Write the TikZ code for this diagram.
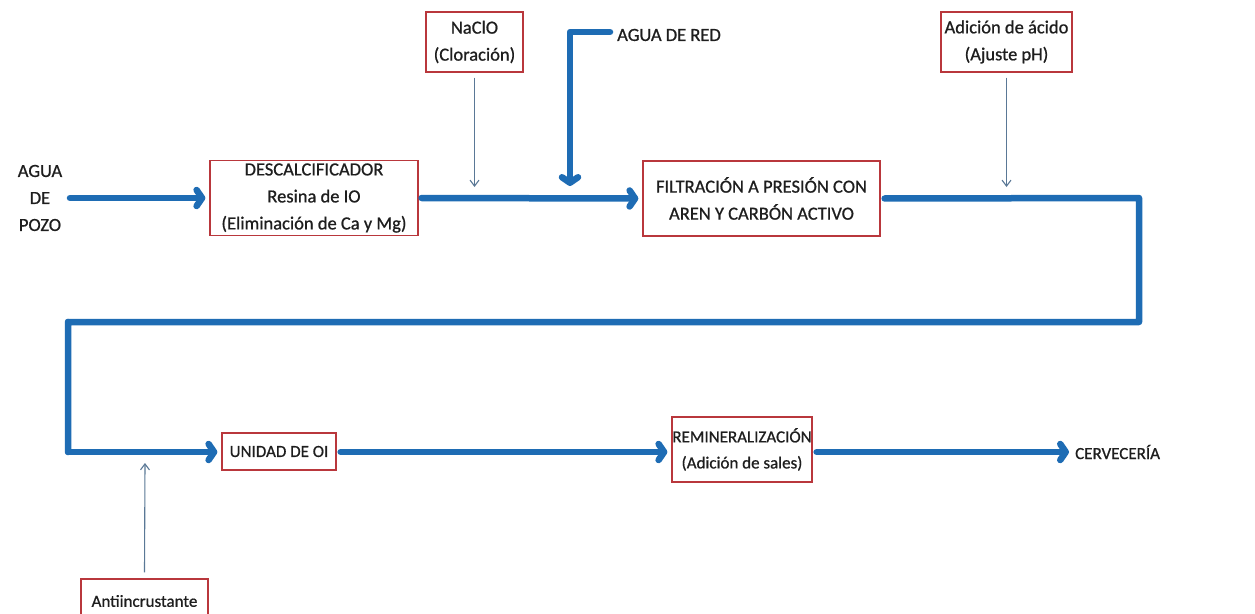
\documentclass[tikz,border=0pt]{standalone}
\usepackage{fontspec}
\setmainfont{Carlito}[RawFeature={embolden=0.8}]
\usetikzlibrary{arrows.meta}
\definecolor{flow}{RGB}{30,108,180}
\definecolor{thin}{RGB}{90,120,150}
\definecolor{boxred}{RGB}{185,55,60}
\definecolor{txt}{RGB}{30,30,30}
\begin{document}
\begin{tikzpicture}[x=1pt,y=-1pt,
  every node/.style={font=\fontsize{18.5}{27}\selectfont, text=txt, align=center, inner sep=0pt},
  small/.style={font=\fontsize{17}{26}\selectfont},
  procbox/.style={draw=boxred, line width=1.3pt, fill=white},
  flowline/.style={draw=flow, line width=6.5pt, line join=round, line cap=round},
  flowarrow/.style={flowline, -{Straight Barb[length=5.5pt,width=16pt,line cap=round,line join=round]}},
  feed/.style={draw=thin, line width=1.1pt, -{Straight Barb[length=6pt,width=9pt]}}
]
\useasboundingbox (0,0) rectangle (1255,613);
\clip (0,0) rectangle (1255,613);
\fill[white] (0,0) rectangle (1255,613);

% nodes
\node (pozo) at (40,198) {AGUA\\DE\\POZO};
\node[procbox, minimum width=208pt, minimum height=75pt] (desc) at (314,198) {DESCALCIFICADOR\\Resina de IO\\(Eliminación de Ca y Mg)};
\node[procbox, minimum width=97pt, minimum height=60pt] (nacio) at (474.5,42) {NaClO\\(Cloración)};
\node[anchor=west] (red) at (617,35) {AGUA DE RED};
\node[procbox, minimum width=237pt, minimum height=75pt] (filt) at (761.5,198.5) {FILTRACIÓN A PRESIÓN CON\\AREN Y CARBÓN ACTIVO};
\node[procbox, minimum width=131pt, minimum height=60pt] (acid) at (1006.5,42) {Adición de ácido\\(Ajuste pH)};
\node[procbox, small, minimum width=114pt, minimum height=37pt] (oi) at (279,451.5) {UNIDAD DE OI};
\node[procbox, small, minimum width=140pt, minimum height=65pt] (remin) at (742,449.5) {REMINERALIZACIÓN\\(Adición de sales)};
\node[anchor=west, small] (cerv) at (1075,452) {CERVECERÍA};
\node[procbox, small, minimum width=127pt, minimum height=44pt] (anti) at (144.5,601) {Antiincrustante};

% coordinates
\coordinate (pozoout) at (70,198);
\coordinate (redcorner) at (570,32);
\coordinate (redend) at (570,186);
\coordinate (redstart) at (610,32);
\coordinate (naend) at (474.5,187);
\coordinate (acend) at (1006.5,187);
\coordinate (c1) at (1139,198);
\coordinate (c2) at (1139,322);
\coordinate (c3) at (68,322);
\coordinate (c4) at (68,452);
\coordinate (antiend) at (145,463);

% main flow
\draw[flowarrow, shorten >=4pt] (pozoout) -- (desc.west);
\draw[flowarrow, shorten <=3pt, shorten >=4pt] (desc.east) -- (filt.west);
\draw[flowarrow] (redstart) -- (redcorner) -- (redend);
\draw[flowline, shorten <=4pt] (filt.east) -- (c1) -- (c2) -- (c3) -- (c4);
\draw[flowarrow, shorten >=4pt] (c3) -- (c4) -- (oi.west |- c4);
\draw[flowarrow, shorten <=4pt, shorten >=4pt] (oi.east |- c4) -- (remin.west |- c4);
\draw[flowarrow, shorten <=4pt, shorten >=6pt] (remin.east |- c4) -- (cerv.west);

% feeds
\draw[feed] (nacio.south) ++(0,5) -- (naend);
\draw[feed] (acid.south) ++(0,5) -- (acend);
\draw[feed] (anti.north) ++(0,-6) -- (antiend);
\end{tikzpicture}
\end{document}
